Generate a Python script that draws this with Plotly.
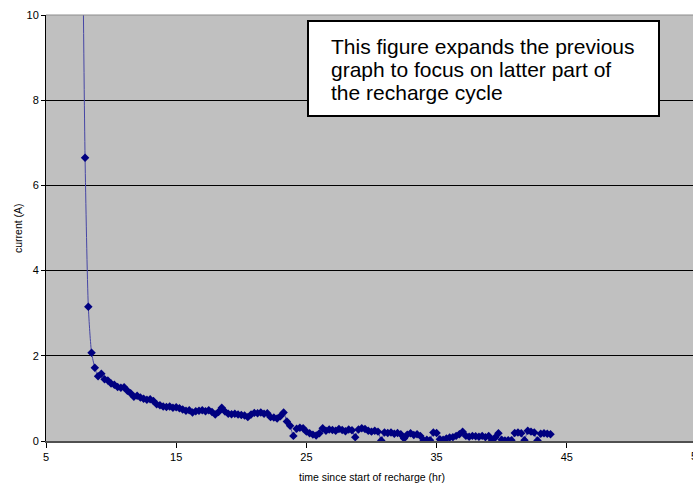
import plotly.graph_objects as go

# Recharge current samples, every 15 minutes (hours since start of recharge, amps)
hours = [
    7.75, 8.0, 8.25, 8.5, 8.75, 9.0, 9.25, 9.5, 9.75, 10.0, 10.25, 10.5, 10.75,
    11.0, 11.25, 11.5, 11.75, 12.0, 12.25, 12.5, 12.75, 13.0, 13.25, 13.5, 13.75,
    14.0, 14.25, 14.5, 14.75, 15.0, 15.25, 15.5, 15.75, 16.0, 16.25, 16.5, 16.75,
    17.0, 17.25, 17.5, 17.75, 18.0, 18.25, 18.5, 18.75, 19.0, 19.25, 19.5, 19.75,
    20.0, 20.25, 20.5, 20.75, 21.0, 21.25, 21.5, 21.75, 22.0, 22.25, 22.5, 22.75,
    23.0, 23.25, 23.5, 23.75, 24.0, 24.25, 24.5, 24.75, 25.0, 25.25, 25.5, 25.75,
    26.0, 26.25, 26.5, 26.75, 27.0, 27.25, 27.5, 27.75, 28.0, 28.25, 28.5, 28.75,
    29.0, 29.25, 29.5, 29.75, 30.0, 30.25, 30.5, 30.75, 31.0, 31.25, 31.5, 31.75,
    32.0, 32.25, 32.5, 32.75, 33.0, 33.25, 33.5, 33.75, 34.0, 34.25, 34.5, 34.75,
    35.0, 35.25, 35.5, 35.75, 36.0, 36.25, 36.5, 36.75, 37.0, 37.25, 37.5, 37.75,
    38.0, 38.25, 38.5, 38.75, 39.0, 39.25, 39.5, 39.75, 40.0, 40.25, 40.5, 40.75,
    41.0, 41.25, 41.5, 41.75, 42.0, 42.25, 42.5, 42.75, 43.0, 43.25, 43.5, 43.75,
]
current = [
    14.0, 6.65, 3.15, 2.07, 1.72, 1.52, 1.58, 1.45, 1.42, 1.35, 1.32, 1.27, 1.25,
    1.26, 1.18, 1.12, 1.04, 1.06, 1.02, 0.99, 0.97, 0.98, 0.94, 0.86, 0.84,
    0.81, 0.80, 0.81, 0.78, 0.79, 0.77, 0.74, 0.71, 0.72, 0.67, 0.70, 0.71,
    0.72, 0.70, 0.72, 0.68, 0.62, 0.68, 0.78, 0.69, 0.64, 0.63, 0.64, 0.62,
    0.61, 0.60, 0.56, 0.62, 0.66, 0.65, 0.67, 0.64, 0.65, 0.56, 0.55, 0.53,
    0.58, 0.67, 0.46, 0.36, 0.12, 0.29, 0.31, 0.30, 0.22, 0.18, 0.15, 0.13,
    0.18, 0.30, 0.24, 0.27, 0.26, 0.24, 0.28, 0.26, 0.23, 0.27, 0.25, 0.09,
    0.27, 0.30, 0.28, 0.24, 0.22, 0.24, 0.22, 0.01, 0.20, 0.19, 0.20, 0.17,
    0.19, 0.16, 0.06, 0.15, 0.18, 0.14, 0.16, 0.12, 0.02, 0.03, 0.02, 0.20,
    0.19, 0.04, 0.03, 0.06, 0.08, 0.09, 0.12, 0.16, 0.22, 0.12, 0.10, 0.12,
    0.11, 0.10, 0.12, 0.09, 0.12, 0.02, 0.08, 0.18, 0.03, 0.01, 0.02, 0.02,
    0.19, 0.20, 0.18, 0.02, 0.24, 0.22, 0.20, 0.01, 0.17, 0.18, 0.17, 0.16,
]

x_ticks = [5, 15, 25, 35, 45, 55]
y_ticks = [0, 2, 4, 6, 8, 10]
x_title = "time since start of recharge (hr)"
y_title = "current (A)"
note_lines = [
    "This figure expands the previous",
    "graph to focus on latter part of",
    "the recharge cycle",
]

W, H = 693, 485
L, T, B = 46, 15, 44
PW, PH = W - L, H - T - B
PX_PER_HR = 13.02
x_end = 5 + PW / PX_PER_HR

FONT = "Liberation Sans, Arial, sans-serif"


def px_x(px):
    return (px - L) / PW


def px_y(py):
    return (H - B - py) / PH


fig = go.Figure()
fig.add_trace(go.Scatter(
    x=hours, y=current, mode="lines+markers",
    line=dict(color="rgb(70,70,165)", width=1, shape="spline", smoothing=0.6),
    marker=dict(symbol="diamond", size=6.5, color="#000080",
                line=dict(width=0)),
    cliponaxis=True, showlegend=False,
))

shapes = [
    # light frame line along the top of the plot area
    dict(type="line", xref="paper", yref="paper", x0=0, x1=1, y0=1, y1=1,
         line=dict(color="#8c8c8c", width=1)),
    # note box
    dict(type="rect", xref="paper", yref="paper",
         x0=px_x(308), x1=px_x(659), y0=px_y(116), y1=px_y(21),
         fillcolor="white", line=dict(color="black", width=2)),
]

annotations = []
for line, ypx in zip(note_lines, [46, 69, 92]):
    annotations.append(dict(
        text=line, xref="paper", yref="paper", x=px_x(329), y=px_y(ypx),
        xanchor="left", yanchor="middle", showarrow=False,
        font=dict(family=FONT, size=21, color="black")))

annotations += [
    dict(text=x_title, xref="paper", yref="paper", x=px_x(372), y=px_y(477),
         xanchor="center", yanchor="middle", showarrow=False,
         font=dict(family=FONT, size=10.5, color="black")),
    dict(text=y_title, xref="paper", yref="paper", x=px_x(18), y=px_y(228),
         xanchor="center", yanchor="middle", textangle=-90, showarrow=False,
         font=dict(family=FONT, size=10.5, color="black")),
    # last x tick label sits just past the visible plot edge
    dict(text=str(x_ticks[-1]), xref="paper", yref="paper",
         x=(x_ticks[-1] - 5) / (x_end - 5), y=px_y(456),
         xanchor="center", yanchor="middle", showarrow=False,
         font=dict(family=FONT, size=11, color="black")),
]

fig.update_layout(
    width=W, height=H,
    margin=dict(l=L, r=0, t=T, b=B, pad=0),
    paper_bgcolor="white", plot_bgcolor="#c0c0c0",
    font=dict(family=FONT, size=11, color="black"),
    shapes=shapes, annotations=annotations,
    xaxis=dict(range=[5, x_end], tickvals=x_ticks, ticks="outside", ticklen=5,
               tickcolor="black", showgrid=False, zeroline=False,
               showline=True, linecolor="#505050", linewidth=2,
               tickfont=dict(size=11)),
    yaxis=dict(range=[0, 10], tickvals=y_ticks, ticks="outside", ticklen=4,
               tickcolor="black", showgrid=True, gridcolor="black", gridwidth=1,
               zeroline=False, showline=True, linecolor="black", linewidth=1,
               tickfont=dict(size=11)),
)

fig.write_html("out.html")
